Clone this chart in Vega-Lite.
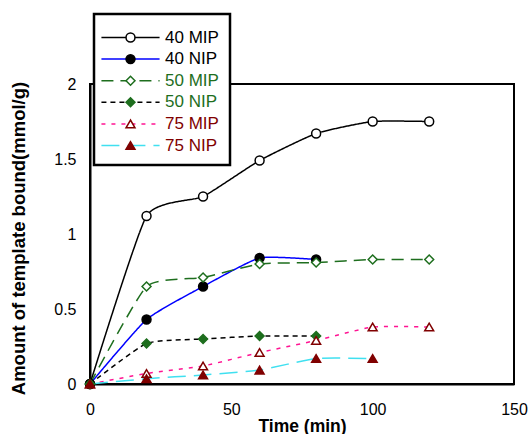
{
  "$schema": "https://vega.github.io/schema/vega-lite/v6.json",
  "width": 424,
  "height": 300,
  "autosize": "none",
  "padding": {"left": 90, "top": 84, "right": 17, "bottom": 50},
  "background": "white",
  "config": {
    "view": {"stroke": "black", "strokeWidth": 2},
    "font": "Liberation Sans",
    "axis": {
      "domainColor": "black",
      "domainWidth": 2,
      "ticks": false,
      "grid": false,
      "labelColor": "black",
      "labelFont": "Liberation Sans",
      "labelFontSize": 16,
      "labelFlush": false,
      "titleFont": "Liberation Sans",
      "titleFontWeight": "bold",
      "titleColor": "black"
    }
  },
  "data": {
    "values": [
      {"series": "40 MIP", "time": 0, "value": 0},
      {"series": "40 MIP", "time": 20, "value": 1.12},
      {"series": "40 MIP", "time": 40, "value": 1.25},
      {"series": "40 MIP", "time": 60, "value": 1.49},
      {"series": "40 MIP", "time": 80, "value": 1.67},
      {"series": "40 MIP", "time": 100, "value": 1.75},
      {"series": "40 MIP", "time": 120, "value": 1.75},
      {"series": "40 NIP", "time": 0, "value": 0},
      {"series": "40 NIP", "time": 20, "value": 0.43},
      {"series": "40 NIP", "time": 40, "value": 0.65},
      {"series": "40 NIP", "time": 60, "value": 0.84},
      {"series": "40 NIP", "time": 80, "value": 0.83},
      {"series": "50 MIP", "time": 0, "value": 0},
      {"series": "50 MIP", "time": 20, "value": 0.65},
      {"series": "50 MIP", "time": 40, "value": 0.71},
      {"series": "50 MIP", "time": 60, "value": 0.8},
      {"series": "50 MIP", "time": 80, "value": 0.81},
      {"series": "50 MIP", "time": 100, "value": 0.83},
      {"series": "50 MIP", "time": 120, "value": 0.83},
      {"series": "50 NIP", "time": 0, "value": 0},
      {"series": "50 NIP", "time": 20, "value": 0.27},
      {"series": "50 NIP", "time": 40, "value": 0.3},
      {"series": "50 NIP", "time": 60, "value": 0.32},
      {"series": "50 NIP", "time": 80, "value": 0.32},
      {"series": "75 MIP", "time": 0, "value": 0},
      {"series": "75 MIP", "time": 20, "value": 0.07},
      {"series": "75 MIP", "time": 40, "value": 0.12},
      {"series": "75 MIP", "time": 60, "value": 0.21},
      {"series": "75 MIP", "time": 80, "value": 0.29},
      {"series": "75 MIP", "time": 100, "value": 0.38},
      {"series": "75 MIP", "time": 120, "value": 0.38},
      {"series": "75 NIP", "time": 0, "value": 0},
      {"series": "75 NIP", "time": 20, "value": 0.035},
      {"series": "75 NIP", "time": 40, "value": 0.06},
      {"series": "75 NIP", "time": 60, "value": 0.093},
      {"series": "75 NIP", "time": 80, "value": 0.17},
      {"series": "75 NIP", "time": 100, "value": 0.17}
    ]
  },
  "encoding": {
    "x": {
      "field": "time",
      "type": "quantitative",
      "scale": {"domain": [0, 150]},
      "axis": {
        "values": [0, 50, 100, 150],
        "title": "Time (min)",
        "labelPadding": 17,
        "titleFontSize": 17.5,
        "titleBaseline": "top",
        "titleY": 33
      }
    },
    "y": {
      "field": "value",
      "type": "quantitative",
      "scale": {"domain": [0, 2]},
      "axis": {
        "values": [0, 0.5, 1, 1.5, 2],
        "format": "~g",
        "title": "Amount of template bound(mmol/g)",
        "titleFontSize": 18.5,
        "titleX": -62,
        "titleY": 154,
        "titleAlign": "center",
        "titleBaseline": "bottom",
        "labelPadding": 14,
        "encode": {"labels": {"update": {"dx": {"signal": "datum.value % 1 ? -9 : 0"}}}}
      }
    }
  },
  "layer": [
    {
      "mark": {"type": "line", "interpolate": "cardinal", "tension": 0.5, "strokeWidth": 1.5},
      "encoding": {
        "color": {
          "field": "series",
          "type": "nominal",
          "scale": {"range": ["black", "#0000FF", "#1E6E1E", "black", "#FF1493", "#40E0F0"]},
          "legend": {
            "orient": "none",
            "legendX": 4,
            "legendY": -70,
            "title": " ",
            "titleFontSize": 4,
            "titlePadding": 0,
            "padding": 11,
            "symbolOffset": 17,
            "symbolType": "M-6.5,0H6.5",
            "symbolSize": 80,
            "symbolStrokeWidth": 1.5,
            "labelFontSize": 17,
            "labelFont": "Liberation Sans",
            "labelOffset": 26,
            "rowPadding": 3.6,
            "fillColor": "white",
            "strokeColor": "black",
            "encode": {
              "legend": {"update": {"strokeWidth": {"value": 2.5}}},
              "labels": {"update": {"fill": {"signal": "test(/^4/, datum.label) ? 'black' : test(/^5/, datum.label) ? '#1E6E1E' : '#800000'"}}}
            }
          }
        },
        "strokeDash": {
          "field": "series",
          "type": "nominal",
          "scale": {"range": [[1, 0], [1, 0], [12, 7], [5, 4], [4, 6], [18, 8]]}
        }
      }
    },
    {
      "mark": {"type": "point", "filled": true, "size": 80, "strokeWidth": 1.5, "opacity": 1},
      "encoding": {
        "shape": {
          "field": "series",
          "type": "nominal",
          "scale": {
            "domain": ["40 MIP", "40 NIP", "50 MIP", "50 NIP", "75 MIP", "75 NIP"],
            "range": ["circle", "circle", "diamond", "diamond", "triangle-up", "triangle-up"]
          },
          "legend": {
            "orient": "none",
            "legendX": 4,
            "legendY": -70,
            "title": " ",
            "titleFontSize": 4,
            "titlePadding": 0,
            "padding": 11,
            "symbolOffset": 17,
            "symbolSize": 80,
            "symbolStrokeWidth": 1.5,
            "labelFontSize": 17,
            "labelFont": "Liberation Sans",
            "labelOffset": 26,
            "labelOpacity": 0,
            "rowPadding": 3.6
          }
        },
        "fill": {
          "field": "series",
          "type": "nominal",
          "scale": {
            "domain": ["40 MIP", "40 NIP", "50 MIP", "50 NIP", "75 MIP", "75 NIP"],
            "range": ["white", "black", "white", "#1E6E1E", "white", "#800000"]
          }
        },
        "stroke": {
          "field": "series",
          "type": "nominal",
          "scale": {
            "domain": ["40 MIP", "40 NIP", "50 MIP", "50 NIP", "75 MIP", "75 NIP"],
            "range": ["black", "black", "#1E6E1E", "#1E6E1E", "#800000", "#800000"]
          }
        }
      }
    }
  ]
}
